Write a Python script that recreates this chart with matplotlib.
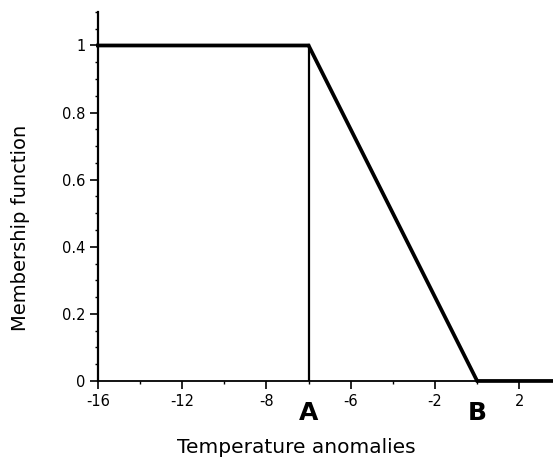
import numpy as np
import matplotlib
matplotlib.use('Agg')
import matplotlib.pyplot as plt
from matplotlib.ticker import MultipleLocator

plt.rcParams['font.family'] = ['DejaVu Sans']

# membership function: 1 up to A, linear drop to 0 at B, then 0
x_knots = [-16, -6, 2, 5.6]
membership = [1, 1, 0, 0]
a_pos, b_pos = -6, 2

# axis ticks (labels as printed in the original figure)
xtick_pos = [-16, -12, -8, -4, 0, 4]
xtick_labels = ['-16', '-12', '-8', '-6', '-2', '2']
ytick_pos = [0, 0.2, 0.4, 0.6, 0.8, 1]
ytick_labels = ['0', '0.2', '0.4', '0.6', '0.8', '1']

fig = plt.figure(figsize=(5.53, 4.59), dpi=100)
ax = fig.add_axes([0.177, 0.170, 0.823, 0.804])

ax.plot(x_knots, membership, color='black', lw=2.7, solid_joinstyle='miter', clip_on=False)
ax.plot([a_pos, a_pos], [0, 1], color='black', lw=1.6)

ax.set_xlim(-16, 5.6)
ax.set_ylim(0, 1.1)

for s in ['top', 'right']:
    ax.spines[s].set_visible(False)
ax.spines['left'].set_linewidth(1.6)
ax.spines['bottom'].set_linewidth(1.3)

ax.set_xticks(xtick_pos)
ax.set_xticklabels(xtick_labels)
ax.set_yticks(ytick_pos)
ax.set_yticklabels(ytick_labels)
ax.xaxis.set_minor_locator(MultipleLocator(2))
ax.yaxis.set_minor_locator(MultipleLocator(0.05))
ax.tick_params(which='major', length=5.5, width=1.2, labelsize=10.5)
ax.tick_params(axis='y', which='major', pad=3.5)
ax.tick_params(axis='x', which='major', pad=4)
ax.tick_params(which='minor', length=2.5, width=1.0)

# A and B markers below the axis
tr = ax.get_xaxis_transform()
ax.text(a_pos, -0.087, 'A', transform=tr, ha='center', va='center', fontsize=18, fontweight='bold')
ax.text(b_pos, -0.087, 'B', transform=tr, ha='center', va='center', fontsize=18, fontweight='bold')

ax.set_xlabel('Temperature anomalies', fontsize=14.5)
ax.xaxis.set_label_coords(0.437, -0.155)
ax.set_ylabel('Membership function', fontsize=14)
ax.yaxis.set_label_coords(-0.150, 0.415)

plt.savefig('out.png', dpi=100)
